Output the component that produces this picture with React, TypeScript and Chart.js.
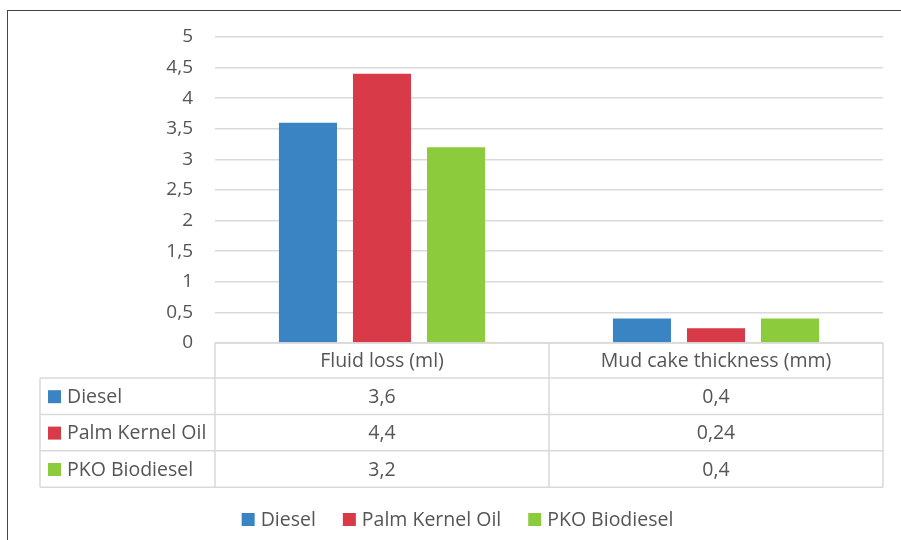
import React, { useEffect, useRef } from 'react';
import { Chart, registerables } from 'chart.js';

Chart.register(...registerables);

const categories = ['Fluid loss (ml)', 'Mud cake thickness (mm)'];
const seriesNames = ['Diesel', 'Palm Kernel Oil', 'PKO Biodiesel'];
const dieselValues = [3.6, 0.4];
const palmKernelOilValues = [4.4, 0.24];
const pkoBiodieselValues = [3.2, 0.4];
const seriesColors = ['#3A84C4', '#D93A47', '#8CCB3B'];
const yMin = 0;
const yMax = 5;
const yStep = 0.5;

const FONT_FAMILY = '"Open Sans", sans-serif';
const FONT_SIZE = 19.5;
const TEXT_COLOR = '#555555';
const LINE_COLOR = '#D9D9D9';

const fmt = (v: number) => String(v).replace('.', ',');

const tablePlugin = {
  id: 'dataTableAndLegend',
  afterDraw(chart: any) {
    const ctx: CanvasRenderingContext2D = chart.ctx;
    const area = chart.chartArea;
    const labels: string[] = chart.data.labels;
    const datasets = chart.data.datasets;
    const n = datasets.length;
    const top = area.bottom;
    const headerH = 35;
    const rowH = 36.4;
    const left = 40;
    const split = area.left;
    const right = area.right;
    const bottom = top + headerH + rowH * n;
    const catW = (area.right - area.left) / labels.length;

    ctx.save();
    ctx.strokeStyle = LINE_COLOR;
    ctx.lineWidth = 1.5;
    const line = (x1: number, y1: number, x2: number, y2: number) => {
      ctx.beginPath();
      ctx.moveTo(x1, y1);
      ctx.lineTo(x2, y2);
      ctx.stroke();
    };
    line(split, top, right, top);
    for (let r = 0; r <= n; r++) {
      const y = top + headerH + r * rowH;
      line(left, y, right, y);
    }
    line(left, top + headerH, left, bottom);
    line(split, top, split, bottom);
    for (let i = 1; i <= labels.length; i++) {
      const bx = area.left + i * catW;
      line(bx, top, bx, bottom);
    }

    ctx.font = `${FONT_SIZE}px ${FONT_FAMILY}`;
    ctx.fillStyle = TEXT_COLOR;
    ctx.textBaseline = 'middle';
    ctx.textAlign = 'center';
    labels.forEach((lab, i) => {
      const cx = chart.scales.x.getPixelForValue(i);
      ctx.fillText(lab, cx, top + headerH / 2 + 1);
    });
    datasets.forEach((ds: any, r: number) => {
      const cy = top + headerH + r * rowH + rowH / 2 + 1;
      ctx.fillStyle = ds.backgroundColor;
      ctx.fillRect(48, cy - 7, 13, 13);
      ctx.fillStyle = TEXT_COLOR;
      ctx.textAlign = 'left';
      ctx.fillText(ds.label, 67, cy);
      ctx.textAlign = 'center';
      ds.data.forEach((v: number, i: number) => {
        const cx = chart.scales.x.getPixelForValue(i);
        ctx.fillText(fmt(v), cx, cy);
      });
    });

    // legend
    const boxSize = 13;
    const boxGap = 6;
    const itemGap = 27;
    const widths = datasets.map((ds: any) => boxSize + boxGap + ctx.measureText(ds.label).width);
    const total = widths.reduce((a: number, b: number) => a + b, 0) + itemGap * (n - 1);
    const legendCenter = 457.5;
    const ly = 520;
    let lx = legendCenter - total / 2;
    ctx.textAlign = 'left';
    datasets.forEach((ds: any, i: number) => {
      ctx.fillStyle = ds.backgroundColor;
      ctx.fillRect(lx, ly - 7, boxSize, boxSize);
      ctx.fillStyle = TEXT_COLOR;
      ctx.fillText(ds.label, lx + boxSize + boxGap, ly);
      lx += widths[i] + itemGap;
    });

    // outer frame
    ctx.strokeStyle = '#444444';
    ctx.lineWidth = 1;
    line(7, 10.5, chart.width, 10.5);
    line(7.5, 10, 7.5, chart.height);
    ctx.restore();
  },
};

export default function App() {
  const canvasRef = useRef<HTMLCanvasElement | null>(null);

  useEffect(() => {
    if (!canvasRef.current) return;
    const valuesList = [dieselValues, palmKernelOilValues, pkoBiodieselValues];
    const chart = new Chart(canvasRef.current, {
      type: 'bar',
      data: {
        labels: categories,
        datasets: seriesNames.map((name, i) => ({
          label: name,
          data: valuesList[i],
          backgroundColor: seriesColors[i],
          borderWidth: 0,
          categoryPercentage: 0.665,
          barPercentage: 0.784,
        })),
      },
      options: {
        responsive: false,
        animation: false,
        layout: { padding: { top: 37, right: 18, bottom: 197, left: 0 } },
        plugins: {
          legend: { display: false },
          tooltip: { enabled: false },
        },
        scales: {
          x: { display: false },
          y: {
            min: yMin,
            max: yMax,
            afterFit: (scale: any) => {
              scale.width = 215;
            },
            ticks: {
              stepSize: yStep,
              padding: 22,
              color: TEXT_COLOR,
              font: { family: FONT_FAMILY, size: 19 },
              callback: (v: any) => fmt(Number(v)),
            },
            grid: { color: LINE_COLOR, lineWidth: 1.5, drawTicks: false },
            border: { display: false },
          },
        },
      },
      plugins: [tablePlugin],
    });
    return () => chart.destroy();
  }, []);

  return (
    <div style={{ position: 'fixed', left: 0, top: 0, width: 901, height: 540, background: '#fff' }}>
      <canvas ref={canvasRef} width={901} height={540} style={{ display: 'block' }} />
    </div>
  );
}
